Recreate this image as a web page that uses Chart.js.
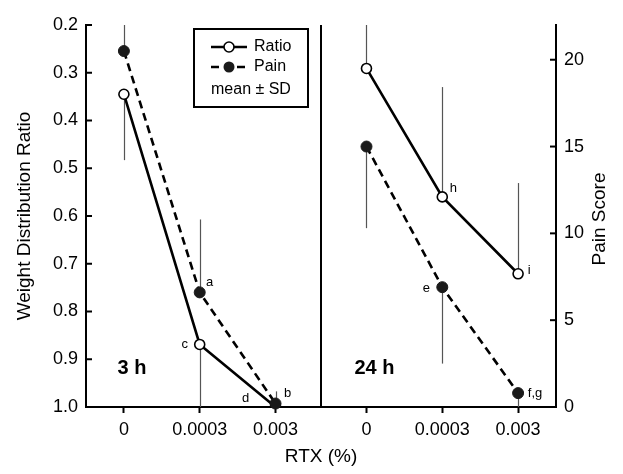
<!DOCTYPE html>
<html>
<head>
<meta charset="utf-8">
<script src="https://cdn.jsdelivr.net/npm/chart.js@4.4.0/dist/chart.umd.min.js"></script>
<style>
  html, body { margin: 0; padding: 0; background: #fff; }
  #wrap { width: 623px; height: 474px; }
</style>
</head>
<body>
<div id="wrap"><canvas id="rtx-chart"></canvas></div>
<script>
const doses = ['0', '0.0003', '0.003'];
const panels = ['3 h', '24 h'];
const seriesNames = ['Ratio', 'Pain'];

// weight distribution ratio (left axis, reversed)
const ratio3h = [0.345, 0.869, 1.0];
const ratio24h = [0.291, 0.560, 0.721];
// pain score (right axis)
const pain3h = [20.5, 6.6, 0.2];
const pain24h = [15.0, 6.9, 0.8];

// SD bars are one-sided, the sign says which side of the mean is drawn
const ratio3hSD = [0.138, 0.16, 0];
const ratio24hSD = [-0.12, -0.23, -0.19];
const pain3hSD = [3.0, 4.2, 0.7];
const pain24hSD = [-4.7, -4.4, -1.0];

// letters next to the means
const ratio3hMarks = ['', 'c', 'd'];
const pain3hMarks = ['', 'a', 'b'];
const ratio24hMarks = ['', 'h', 'i'];
const pain24hMarks = ['', 'e', 'f,g'];

const FONT = '"Liberation Sans", Arial, Helvetica, sans-serif';
const panelShift = [0, 3.2];   // x offset of each panel on the shared x scale
const dividerAt = 2.6;
const markOffset = { a: [10, -10], b: [12, -10], c: [-15, 0], d: [-30, -9],
                     e: [-16, 1], h: [11, -8], i: [11, -3], 'f,g': [17, 0] };

const xy = (vals, p) => vals.map((v, i) => ({ x: i + panelShift[p], y: v }));

function ratioSet(vals, sd, marks, p) {
  return {
    label: seriesNames[0], data: xy(vals, p), sd: sd, marks: marks,
    yAxisID: 'yW', order: 2,
    borderColor: '#000', borderWidth: 2.6,
    pointRadius: 5, pointBackgroundColor: '#fff', pointBorderColor: '#000', pointBorderWidth: 1.6
  };
}
function painSet(vals, sd, marks, p) {
  return {
    label: seriesNames[1], data: xy(vals, p), sd: sd, marks: marks,
    yAxisID: 'yP', order: 1, clip: false,
    borderColor: '#000', borderWidth: 2.6, borderDash: [8, 5],
    pointRadius: 5.5, pointBackgroundColor: '#1a1a1a', pointBorderColor: '#1a1a1a', pointBorderWidth: 1
  };
}

const errorBars = {
  id: 'errorBars',
  beforeDatasetsDraw(chart) {
    const { ctx, chartArea: a } = chart;
    const xs = chart.scales.x;
    ctx.save();
    ctx.beginPath();
    ctx.rect(a.left, a.top, a.right - a.left, a.bottom - a.top);
    ctx.clip();
    ctx.strokeStyle = '#555';
    ctx.lineWidth = 1.2;
    chart.data.datasets.forEach(ds => {
      const ys = chart.scales[ds.yAxisID];
      ds.data.forEach((pt, i) => {
        if (!ds.sd[i]) return;
        const x = Math.round(xs.getPixelForValue(pt.x)) + 0.5;
        ctx.beginPath();
        ctx.moveTo(x, ys.getPixelForValue(pt.y));
        ctx.lineTo(x, ys.getPixelForValue(pt.y + ds.sd[i]));
        ctx.stroke();
      });
    });
    ctx.restore();
  }
};

const decor = {
  id: 'decor',
  afterDraw(chart) {
    const { ctx, chartArea: a, scales } = chart;
    ctx.save();
    ctx.strokeStyle = '#000';
    ctx.fillStyle = '#000';

    // panel divider
    const dx = scales.x.getPixelForValue(dividerAt);
    ctx.lineWidth = 2;
    ctx.beginPath(); ctx.moveTo(dx, a.top); ctx.lineTo(dx, a.bottom); ctx.stroke();

    // inward tick marks on the two y axes
    scales.yW.ticks.forEach(t => {
      const y = scales.yW.getPixelForValue(t.value);
      ctx.beginPath(); ctx.moveTo(a.left, y); ctx.lineTo(a.left + 6, y); ctx.stroke();
    });
    scales.yP.ticks.forEach(t => {
      const y = scales.yP.getPixelForValue(t.value);
      ctx.beginPath(); ctx.moveTo(a.right, y); ctx.lineTo(a.right - 6, y); ctx.stroke();
    });

    // letters
    ctx.font = '13px ' + FONT;
    ctx.textAlign = 'center';
    ctx.textBaseline = 'middle';
    chart.data.datasets.forEach((ds, di) => {
      const meta = chart.getDatasetMeta(di);
      ds.marks.forEach((m, i) => {
        if (!m) return;
        const el = meta.data[i];
        const off = markOffset[m];
        ctx.fillText(m, el.x + off[0], el.y + off[1]);
      });
    });

    // panel labels
    ctx.font = 'bold 20px ' + FONT;
    panels.forEach((p, i) => {
      ctx.fillText(p, scales.x.getPixelForValue(panelShift[i]) + 8, a.bottom - 39);
    });

    // right axis title, reads bottom to top
    ctx.font = '19px ' + FONT;
    ctx.translate(600, (a.top + a.bottom) / 2 + 3);
    ctx.rotate(-Math.PI / 2);
    ctx.fillText('Pain Score', 0, 0);
    ctx.restore();

    // legend box
    ctx.save();
    const L = a.left + 108, T = a.top + 4;
    ctx.strokeStyle = '#000';
    ctx.lineWidth = 2;
    ctx.strokeRect(L, T, 114, 78);
    ctx.lineWidth = 2.6;
    ctx.beginPath(); ctx.moveTo(L + 17, T + 18); ctx.lineTo(L + 53, T + 18); ctx.stroke();
    ctx.setLineDash([8, 5]);
    ctx.beginPath(); ctx.moveTo(L + 17, T + 38); ctx.lineTo(L + 53, T + 38); ctx.stroke();
    ctx.setLineDash([]);
    ctx.lineWidth = 1.6;
    ctx.fillStyle = '#fff';
    ctx.beginPath(); ctx.arc(L + 35, T + 18, 5, 0, Math.PI * 2); ctx.fill(); ctx.stroke();
    ctx.fillStyle = '#1a1a1a';
    ctx.beginPath(); ctx.arc(L + 35, T + 38, 5.5, 0, Math.PI * 2); ctx.fill();
    ctx.fillStyle = '#000';
    ctx.font = '16px ' + FONT;
    ctx.textAlign = 'left';
    ctx.textBaseline = 'middle';
    ctx.fillText(seriesNames[0], L + 60, T + 18);
    ctx.fillText(seriesNames[1], L + 60, T + 38);
    ctx.fillText('mean \u00b1 SD', L + 17, T + 61);
    ctx.restore();
  }
};

const tickFont = { family: FONT, size: 18 };
const titleFont = { family: FONT, size: 19 };

new Chart(document.getElementById('rtx-chart'), {
  type: 'line',
  data: {
    datasets: [
      ratioSet(ratio3h, ratio3hSD, ratio3hMarks, 0),
      painSet(pain3h, pain3hSD, pain3hMarks, 0),
      ratioSet(ratio24h, ratio24hSD, ratio24hMarks, 1),
      painSet(pain24h, pain24hSD, pain24hMarks, 1)
    ]
  },
  options: {
    responsive: true,
    maintainAspectRatio: false,
    animation: false,
    layout: { padding: { top: 25, left: 0, right: 0, bottom: 0 } },
    plugins: { legend: { display: false }, tooltip: { enabled: false } },
    scales: {
      x: {
        type: 'linear', min: -0.5, max: 5.7,
        afterBuildTicks: s => {
          s.ticks = panelShift.flatMap(sh => doses.map((d, i) => ({ value: i + sh })));
        },
        ticks: { callback: (v, i) => doses[i % doses.length], font: tickFont, color: '#000',
                 padding: 6, maxRotation: 0, autoSkip: false },
        grid: { drawOnChartArea: false, tickLength: 6, tickColor: '#000', tickWidth: 2 },
        border: { color: '#000', width: 2 },
        title: { display: true, text: 'RTX (%)', font: titleFont, color: '#000', padding: { top: 0, bottom: 6 } },
        afterFit: s => { s.height = 67; }
      },
      yW: {
        position: 'left', reverse: true, min: 0.2, max: 1.0,
        ticks: { stepSize: 0.1, callback: v => v.toFixed(1), font: tickFont, color: '#000', padding: 8 },
        grid: { drawOnChartArea: false, drawTicks: false },
        border: { color: '#000', width: 2 },
        title: { display: true, text: 'Weight Distribution Ratio', font: titleFont, color: '#000', padding: { top: 13, bottom: 0 } },
        afterFit: s => { s.width = 86; }
      },
      yP: {
        position: 'right', min: 0, max: 22,
        ticks: { stepSize: 5, includeBounds: false, font: tickFont, color: '#000', padding: 8 },
        grid: { drawOnChartArea: false, drawTicks: false },
        border: { color: '#000', width: 2 },
        afterFit: s => { s.width = 67; }
      }
    }
  },
  plugins: [errorBars, decor]
});
</script>
</body>
</html>
